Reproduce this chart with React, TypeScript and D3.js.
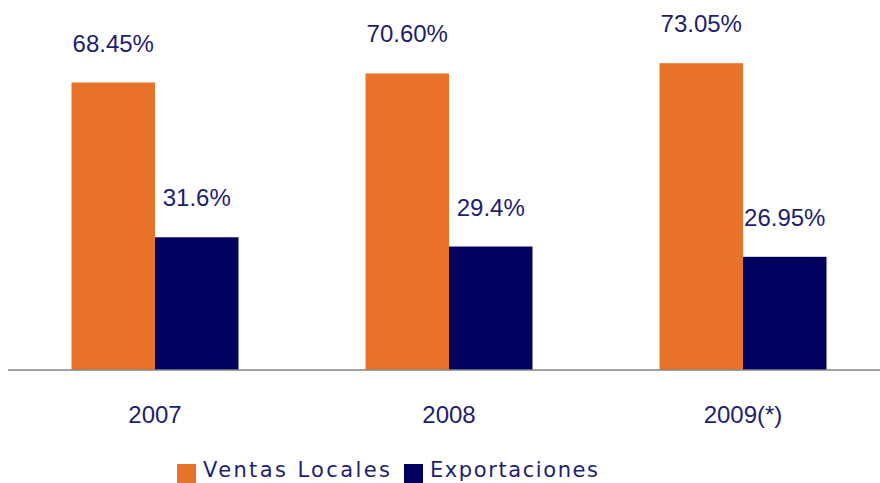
import React from "react";
import * as d3 from "d3";

const years = ["2007", "2008", "2009(*)"];
const seriesNames = ["Ventas Locales", "Exportaciones"];
const ventasLocales = [68.45, 70.6, 73.05];
const exportaciones = [31.6, 29.4, 26.95];
const valueLabels = [
  ["68.45%", "70.60%", "73.05%"],
  ["31.6%", "29.4%", "26.95%"],
];
const seriesColors = ["#E8722A", "#00005E"];

const W = 880;
const H = 483;
const baseY = 370;
const textColor = "#1E1E6E";

export default function App() {
  const x0 = d3.scaleBand<string>().domain(years).range([8, 890]).paddingInner(0.432).paddingOuter(0.216);
  const x1 = d3.scaleBand<string>().domain(seriesNames).range([0, x0.bandwidth()]).padding(0);
  const y = d3.scaleLinear().domain([0, 80]).range([baseY, baseY - 336]);
  const series = [ventasLocales, exportaciones];

  const legendItems = [
    { name: seriesNames[0], sx: 177, tx: 203, len: 187 },
    { name: seriesNames[1], sx: 404, tx: 430, len: 168 },
  ];

  return (
    <svg
      width={W}
      height={H}
      style={{ position: "absolute", left: 0, top: 0, background: "#fff" }}
      fontFamily="'Liberation Sans', Arial, sans-serif"
    >
      {years.map((yr, i) => (
        <g key={yr} transform={`translate(${x0(yr)},0)`}>
          {series.map((vals, s) => {
            const bx = x1(seriesNames[s])!;
            const top = y(vals[i]);
            return (
              <g key={s}>
                <rect x={bx} y={top} width={x1.bandwidth()} height={baseY - top} fill={seriesColors[s]} />
                <text
                  x={bx + x1.bandwidth() / 2}
                  y={top - 31}
                  textAnchor="middle"
                  fontSize={24}
                  fill={textColor}
                >
                  {valueLabels[s][i]}
                </text>
              </g>
            );
          })}
          <text x={x0.bandwidth() / 2} y={423} textAnchor="middle" fontSize={24} fill={textColor}>
            {yr}
          </text>
        </g>
      ))}
      <line x1={8} x2={880} y1={baseY} y2={baseY} stroke="#858585" strokeWidth={1.5} />
      {legendItems.map((it, s) => (
        <g key={it.name}>
          <rect x={it.sx} y={464} width={19} height={19} fill={seriesColors[s]} />
          <text
            x={it.tx}
            y={477}
            fontSize={21}
            fontFamily="'DejaVu Sans', sans-serif"
            fill={textColor}
            textLength={it.len}
            lengthAdjust="spacing"
          >
            {it.name}
          </text>
        </g>
      ))}
    </svg>
  );
}
